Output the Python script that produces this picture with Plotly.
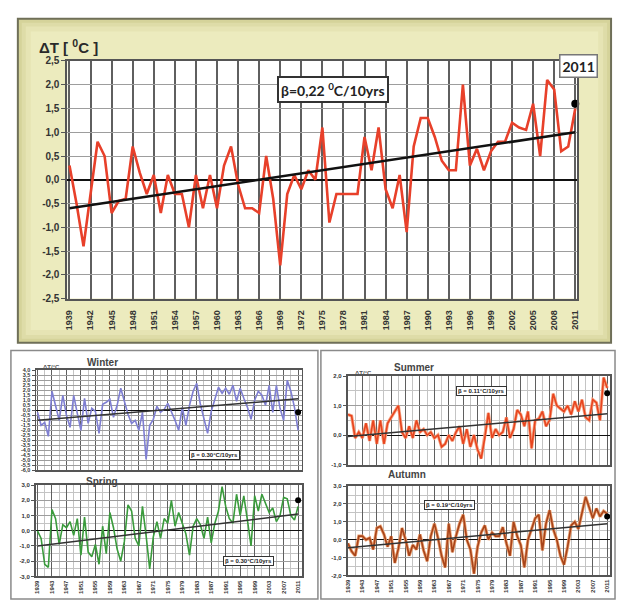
import plotly.graph_objects as go

W, H = 620, 606

years = list(range(1939, 2012))

annual = [0.3, -0.5, -1.4, -0.3, 0.8, 0.5, -0.7, -0.45, -0.4, 0.7,
          0.15, -0.3, 0.1, -0.7, 0.1, -0.3, -0.3, -1.0, 0.1, -0.6,
          0.1, -0.6, 0.3, 0.7, -0.1, -0.6, -0.6, -0.7, 0.5, -0.4,
          -1.8, -0.3, 0.1, -0.2, 0.2, 0.0, 1.1, -0.9, -0.3, -0.3,
          -0.3, -0.3, 0.9, 0.2, 1.1, -0.2, -0.6, 0.1, -1.1, 0.7,
          1.3, 1.3, 0.9, 0.4, 0.2, 0.2, 2.0, 0.3, 0.65, 0.2,
          0.6, 0.8, 0.8, 1.2, 1.1, 1.05, 1.6, 0.5, 2.1, 1.9,
          0.6, 0.7, 1.5]

winter = [-0.2, -1.5, -1.2, -2.6, 1.9, 0.5, -1.0, 1.5, -0.5, -1.7,
          1.5, -0.3, -2.0, 1.2, -1.3, 0.2, -0.1, -2.3, 0.6, 0.8,
          1.1, -0.7, 0.5, 2.2, 1.0, -0.4, -1.3, -1.0, -2.0, -0.2,
          -4.9, -1.5, -0.9, 0.4, -0.2, 0.1, 0.7, -0.1, -1.0, -2.0,
          0.3, -1.5, 0.5, 1.9, 2.7, 0.6, -1.0, -2.3, -0.1, 1.0,
          2.3, 1.7, 2.2, 1.6, 2.5, 0.9, 2.2, 1.2, 0.3, -0.9,
          1.0, 1.9, 1.5, 0.5, 2.5, -0.2, 2.5, 0.2, -1.0, 3.0,
          1.9, 0.3, -2.0]

spring = [0.0, -0.5, -2.2, -2.4, 1.4, 0.8, -0.9, 0.4, 0.2, 0.6,
          -0.3, 0.8, -1.6, 0.9, -1.4, -1.7, -0.9, -2.2, 0.3, -1.5,
          1.2, 0.2, -1.2, -2.0, -0.7, 1.7, 1.3, -0.5, -1.0, 1.6,
          -0.3, -2.5, -0.4, 0.6, -0.5, 0.8, 0.5, 2.0, 0.3, 1.2,
          0.5, -0.2, -1.6, 0.3, 0.8, 0.4, -0.5, 0.9, -0.8, 0.5,
          1.3, 2.9, 1.6, 0.8, 0.5, 2.4, 1.0, 2.3, 0.7, -1.0,
          2.3, 1.3, 2.4, 1.8, 1.2, 1.5, 0.6, 1.0, 2.2, 2.1,
          1.0, 0.7, 1.6]

summer = [0.7, 0.65, -0.1, 0.1, -0.1, 0.4, -0.2, 0.5, -0.3, 0.5,
          -0.3, 0.4, 0.6, 0.8, 1.0, 0.1, -0.1, 0.3, -0.1, 0.5,
          0.1, 0.2, 0.0, 0.1, -0.1, 0.0, -0.4, -0.3, 0.0, -0.2,
          0.1, 0.3, -0.3, 0.2, -0.4, 0.0, -0.5, -0.8, -0.1, 0.75,
          -0.1, 0.2, 0.0, 0.1, 0.6, -0.1, 0.2, 0.85, 0.7, 0.3,
          0.8, -0.45, 0.5, 0.55, 0.8, 0.3, 0.5, 1.4, 1.0, 0.9,
          0.8, 1.0, 0.7, 1.15, 0.8, 1.2, 0.6, 0.5, 1.2, 1.1,
          0.5, 1.95, 1.6]

autumn = [-0.2, -0.65, -0.9, 0.2, 0.2, 0.0, 0.1, -0.55, 0.65, 0.75,
          0.3, -0.4, 0.2, -1.3, -0.5, 0.65, 0.0, -0.9, -0.3, -0.55,
          0.3, -0.6, -1.2, 0.2, 0.9, 0.1, -0.9, -1.55, 0.9, -0.7,
          0.2, 0.9, 1.4, 0.0, -0.55, -1.9, -0.4, 0.4, 0.8, 0.0,
          0.4, 0.2, 0.2, 0.7, -0.2, -0.9, 1.0, 0.2, -0.3, -1.55,
          0.0, 0.6, 1.2, 1.4, -0.6, 0.9, 1.65, 0.6, 0.0, -0.9,
          -1.4, -0.4, 0.8, 1.0, 0.6, 1.5, 2.4, 1.8, 1.2, 1.75,
          1.3, 1.6, 1.45]

# linear trend end points (1939, 2011)
trend_years = [1939, 2011]
trend_annual = [-0.6, 1.0]
trend_winter = [-1.0, 1.15]
trend_spring = [-1.0, 1.1]
trend_summer = [-0.05, 0.72]
trend_autumn = [-0.45, 0.9]

# 2011 highlighted values
dot_annual = 1.6
dot_winter = -0.2
dot_spring = 2.0
dot_summer = 1.42
dot_autumn = 1.3

# tick labels
main_yvals = [2.5, 2.0, 1.5, 1.0, 0.5, 0.0, -0.5, -1.0, -1.5, -2.0, -2.5]
winter_yvals = [4.0, 3.5, 3.0, 2.5, 2.0, 1.5, 1.0, 0.5, 0.0, -0.5, -1.0, -1.5,
                -2.0, -2.5, -3.0, -3.5, -4.0, -4.5, -5.0, -5.5, -6.0]
spring_yvals = [3.0, 2.0, 1.0, 0.0, -1.0, -2.0, -3.0]
summer_yvals = [2.0, 1.0, 0.0, -1.0]
autumn_yvals = [3.0, 2.0, 1.0, 0.0, -1.0, -2.0]
main_xvals = years[::3]
sub_xvals = years[::4]

beta_main = "β=0,22 <sup>0</sup>C/10yrs"
beta_winter = "β = 0.30°C/10yrs"
beta_spring = "β = 0.30°C/10yrs"
beta_summer = "β = 0.11°C/10yrs"
beta_autumn = "β = 0.19°C/10yrs"


def comma(v):
    return f"{v:.1f}".replace(".", ",")


def px(x):
    return x / W


def py(y):
    return 1 - y / H


FONT = "Liberation Sans"

# plot-area pixel boxes: (left, right, top, bottom)
box_main = (65, 580, 57, 299)
box_winter = (33, 302, 372, 474)
box_spring = (33, 302, 489, 582)
box_summer = (348, 613, 378, 468)
box_autumn = (348, 613, 490, 581)

fig = go.Figure()

# ---------- main panel ----------
fig.add_trace(go.Scatter(x=years, y=annual, mode="lines",
                         line=dict(color="#e8402a", width=2.6),
                         xaxis="x", yaxis="y", showlegend=False))
fig.add_trace(go.Scatter(x=trend_years, y=trend_annual, mode="lines",
                         line=dict(color="#111111", width=2.6),
                         xaxis="x", yaxis="y", showlegend=False))
fig.add_trace(go.Scatter(x=[years[-1]], y=[dot_annual], mode="markers",
                         marker=dict(color="black", size=8),
                         xaxis="x", yaxis="y", showlegend=False,
                         cliponaxis=False))

# ---------- seasonal panels ----------
seasons = [
    ("x2", "y2", winter, trend_winter, dot_winter, "#7f7fd2", None),
    ("x3", "y3", spring, trend_spring, dot_spring, "#3a9b3c", None),
    ("x4", "y4", summer, trend_summer, dot_summer, "#e8451f", "#f5a383"),
    ("x5", "y5", autumn, trend_autumn, dot_autumn, "#a8441a", "#eaa070"),
]
for xa, ya, vals, tr, dot, col, halo in seasons:
    if halo:
        fig.add_trace(go.Scatter(x=years, y=vals, mode="lines",
                                 line=dict(color=halo, width=3.2),
                                 xaxis=xa, yaxis=ya, showlegend=False))
    fig.add_trace(go.Scatter(x=years, y=vals, mode="lines",
                             line=dict(color=col, width=1.6),
                             xaxis=xa, yaxis=ya, showlegend=False))
    fig.add_trace(go.Scatter(x=trend_years, y=tr, mode="lines",
                             line=dict(color="#333333", width=1.5),
                             xaxis=xa, yaxis=ya, showlegend=False))
    fig.add_trace(go.Scatter(x=[years[-1]], y=[dot], mode="markers",
                             marker=dict(color="black", size=6),
                             xaxis=xa, yaxis=ya, showlegend=False,
                             cliponaxis=False))


def xaxis_cfg(box, rng, tickvals, show_labels, size, grid_w, minor=None):
    cfg = dict(domain=[px(box[0]), px(box[1])], range=rng,
               tickmode="array", tickvals=tickvals,
               ticktext=[str(v) for v in tickvals],
               tickangle=-90, showticklabels=show_labels,
               tickfont=dict(family=FONT, size=size, color="#333", weight="bold"),
               showgrid=True, gridcolor="#5f5f5f", gridwidth=grid_w,
               showline=True, mirror=True, linecolor="#555", linewidth=grid_w + 0.5,
               ticks="", zeroline=False, fixedrange=True)
    if minor:
        cfg["minor"] = minor
    return cfg


def yaxis_cfg(box, rng, tickvals, size, grid_w, minor=None, zw=2):
    cfg = dict(domain=[py(box[3]), py(box[2])], range=rng,
               tickmode="array", tickvals=tickvals,
               ticktext=[comma(v) for v in tickvals],
               tickfont=dict(family=FONT, size=size, color="#333", weight="bold"),
               showgrid=True, gridcolor="#9d9d9d", gridwidth=grid_w,
               showline=True, mirror=True, linecolor="#555", linewidth=grid_w + 0.5,
               ticks="outside", ticklen=3, tickcolor="#555",
               zeroline=True, zerolinecolor="#111", zerolinewidth=zw,
               fixedrange=True)
    if minor:
        cfg["minor"] = minor
    return cfg


sub_xminor = dict(tickmode="linear", tick0=1939, dtick=2, showgrid=True,
                  gridcolor="#c4c4c4", gridwidth=0.8, ticks="")
sub_yminor = dict(tickmode="linear", tick0=0, dtick=0.5, showgrid=True,
                  gridcolor="#c4c4c4", gridwidth=0.8, ticks="")

layout = dict(
    width=W, height=H,
    margin=dict(l=0, r=0, t=0, b=0),
    paper_bgcolor="white", plot_bgcolor="white",
    showlegend=False,
    xaxis=xaxis_cfg(box_main, [1938.7, 2011.3], main_xvals, True, 9, 1.5),
    yaxis=yaxis_cfg(box_main, [-2.5, 2.5], main_yvals, 10, 1.4),
    xaxis2=xaxis_cfg(box_winter, [1938.5, 2012.1], sub_xvals, False, 6, 1, sub_xminor),
    yaxis2=yaxis_cfg(box_winter, [-6.0, 4.0], winter_yvals, 5.5, 0.8, None, 1),
    xaxis3=xaxis_cfg(box_spring, [1938.5, 2012.1], sub_xvals, True, 6, 1, sub_xminor),
    yaxis3=yaxis_cfg(box_spring, [-3.0, 3.0], spring_yvals, 6, 1, sub_yminor, 1),
    xaxis4=xaxis_cfg(box_summer, [1938.9, 2011.8], sub_xvals, False, 6, 1, sub_xminor),
    yaxis4=yaxis_cfg(box_summer, [-1.0, 2.0], summer_yvals, 6, 1, sub_yminor, 1),
    xaxis5=xaxis_cfg(box_autumn, [1938.9, 2011.8], sub_xvals, True, 6, 1, sub_xminor),
    yaxis5=yaxis_cfg(box_autumn, [-2.0, 3.0], autumn_yvals, 6, 1, sub_yminor, 1),
)
for i in range(2, 6):
    layout[f"xaxis{i}"]["anchor"] = f"y{i}"
    layout[f"yaxis{i}"]["anchor"] = f"x{i}"
layout["xaxis"]["anchor"] = "y"
layout["yaxis"]["anchor"] = "x"
layout["yaxis"]["ticklen"] = 4
layout["xaxis"]["ticks"] = "outside"
layout["xaxis"]["ticklen"] = 6
layout["xaxis"]["tickcolor"] = "rgba(0,0,0,0)"


def rect(l, r, t, b, fill, line_col=None, lw=0):
    return dict(type="rect", xref="paper", yref="paper",
                x0=px(l), x1=px(r), y0=py(b), y1=py(t),
                fillcolor=fill, line=dict(color=line_col or fill, width=lw),
                layer="below")


shapes = []
# main beige panel with soft darker edge
shapes.append(rect(15, 614, 14, 344, "#d5d39a", "#6f6f58", 2))
shapes.append(rect(19, 610, 18, 340, "#dedca8"))
shapes.append(rect(23, 606, 22, 336, "#e6e4b4"))
shapes.append(rect(28, 601, 27, 331, "#ecebbe"))
# lower panels
shapes.append(rect(8, 318, 352, 605, "white", "#8a8a8a", 1.5))
shapes.append(rect(321, 618, 352, 605, "white", "#8a8a8a", 1.5))
# white plot areas
for b in (box_main, box_winter, box_spring, box_summer, box_autumn):
    shapes.append(rect(b[0], b[1], b[2], b[3], "white"))
layout["shapes"] = shapes


def ann(x, y, text, size, bold=True, bg=None, border=None, bw=0, pad=1,
        xanchor="center", family=FONT, color="#222"):
    d = dict(xref="paper", yref="paper", x=px(x), y=py(y), text=text,
             showarrow=False, xanchor=xanchor, yanchor="middle",
             font=dict(family=family, size=size, color=color,
                       weight="bold" if bold else "normal"))
    if bg:
        d["bgcolor"] = bg
    if border:
        d["bordercolor"] = border
        d["borderwidth"] = bw
        d["borderpad"] = pad
    return d


annotations = [
    ann(34, 42, "ΔT [ <sup>0</sup>C ]", 15, xanchor="left", color="#2a2a2a"),
    ann(333, 86, beta_main, 14, bg="white", border="#333", bw=2, pad=2,
        family="Lato", color="#222"),
    ann(581, 62, "2011", 14, bg="white", border="#777", bw=1.5, pad=2,
        family="Lato", color="#222"),
    ann(100, 364, "Winter", 10, color="#444"),
    ann(100, 485, "Spring", 10, color="#444"),
    ann(415, 369, "Summer", 10, color="#444"),
    ann(408, 478, "Autumn", 10, color="#444"),
    ann(38, 369, "ΔT/°C", 6, xanchor="left", color="#555"),
    ann(353, 375, "ΔT/°C", 6, xanchor="left", color="#555"),
    ann(214, 458, beta_winter, 6, bg="white", border="#333", bw=1, pad=1),
    ann(248, 566, beta_spring, 6, bg="white", border="#333", bw=1, pad=1),
    ann(483, 393, beta_summer, 6, bg="white", border="#333", bw=1, pad=1),
    ann(451, 509, beta_autumn, 6, bg="white", border="#333", bw=1, pad=1),
]
layout["annotations"] = annotations

fig.update_layout(**layout)
fig.write_html("out.html",
               config={"displayModeBar": False},
               post_script="document.body.style.margin='0px';"
                           "document.body.style.overflow='hidden';")
